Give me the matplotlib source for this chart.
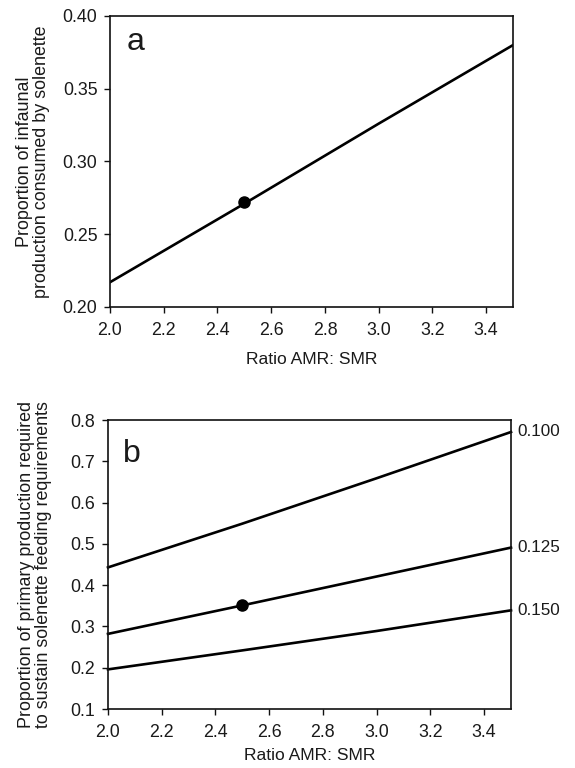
import matplotlib
matplotlib.use("Agg")
import matplotlib.pyplot as plt

plt.rcParams['font.family'] = ['Liberation Sans', 'DejaVu Sans']
TXT = '#1a1a1a'

# Panel a
ratio_a = [2.0, 2.5, 3.0, 3.5]
prop_infaunal = [0.217, 0.271, 0.326, 0.380]
point_a = (2.5, 0.272)

# Panel b
ratio_b = [2.0, 2.5, 3.0, 3.5]
series_b = {
    '0.100': [0.443, 0.549, 0.659, 0.771],
    '0.125': [0.282, 0.351, 0.421, 0.491],
    '0.150': [0.196, 0.242, 0.289, 0.339],
}
point_b = (2.5, 0.351)

xticks = [2.0, 2.2, 2.4, 2.6, 2.8, 3.0, 3.2, 3.4]

fig = plt.figure(figsize=(5.75, 7.68), dpi=100)
axa = fig.add_axes([0.1913, 0.6003, 0.7009, 0.3789])
axb = fig.add_axes([0.1878, 0.0768, 0.7009, 0.3763])

def style(ax):
    for s in ax.spines.values():
        s.set_linewidth(1.2)
        s.set_color('#111111')
    ax.tick_params(direction='out', length=4, width=1.0, labelsize=12.8,
                   colors='#111111', labelcolor=TXT)
    ax.tick_params(axis='x', pad=7)
    ax.tick_params(axis='y', pad=5)
    ax.set_xticks(xticks)
    ax.set_xticklabels([f'{v:.1f}' for v in xticks])
    ax.set_xlim(2.0, 3.5)

axa.plot(ratio_a, prop_infaunal, color='black', lw=1.9)
axa.plot(*point_a, 'o', color='black', ms=8)
axa.set_ylim(0.20, 0.40)
axa.set_yticks([0.20, 0.25, 0.30, 0.35, 0.40])
axa.set_yticklabels(['0.20', '0.25', '0.30', '0.35', '0.40'])
style(axa)
axa.set_xlabel('Ratio AMR: SMR', fontsize=12.6, color=TXT, labelpad=9)
axa.set_ylabel('Proportion of infaunal\nproduction consumed by solenette',
               fontsize=12.9, color=TXT, linespacing=1.0)
axa.yaxis.set_label_coords(-0.150, 0.5)
axa.text(0.042, 0.883, 'a', transform=axa.transAxes, fontsize=23,
         ha='left', va='baseline', color=TXT)

for lab, vals in series_b.items():
    axb.plot(ratio_b, vals, color='black', lw=1.9, clip_on=False)
    axb.annotate(lab, xy=(ratio_b[-1], vals[-1]), xytext=(4.3, 0),
                 textcoords='offset points', va='center', ha='left',
                 fontsize=12.3, color=TXT, annotation_clip=False)
axb.plot(*point_b, 'o', color='black', ms=8)
axb.set_ylim(0.1, 0.8)
yt = [0.1, 0.2, 0.3, 0.4, 0.5, 0.6, 0.7, 0.8]
axb.set_yticks(yt)
axb.set_yticklabels([f'{v:.1f}' for v in yt])
style(axb)
axb.set_xlabel('Ratio AMR: SMR', fontsize=12.6, color=TXT, labelpad=5)
axb.set_ylabel('Proportion of primary production required\nto sustain solenette feeding requirements',
               fontsize=12.9, color=TXT, linespacing=1.0)
axb.yaxis.set_label_coords(-0.140, 0.5)
axb.text(0.037, 0.855, 'b', transform=axb.transAxes, fontsize=23,
         ha='left', va='baseline', color=TXT)

fig.savefig('out.png', dpi=100)
